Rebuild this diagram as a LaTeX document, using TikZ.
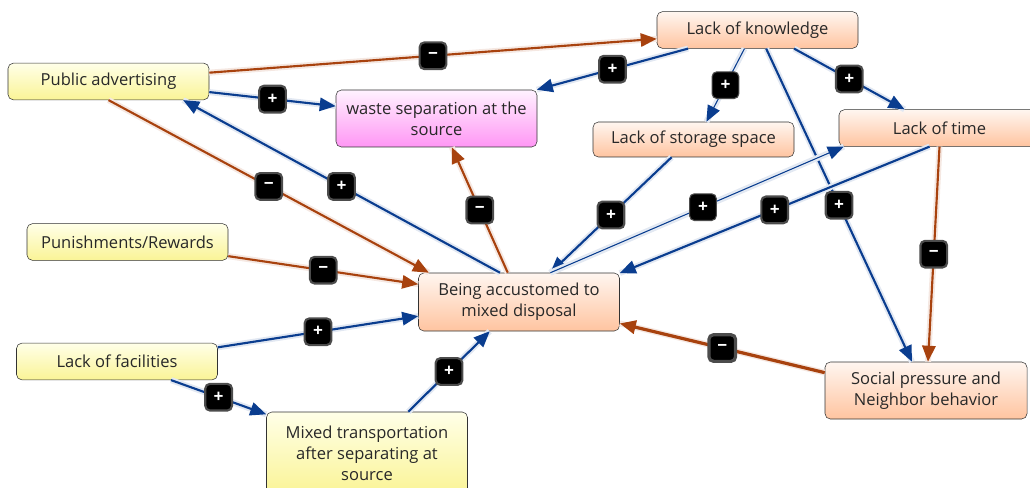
\documentclass[tikz,border=0pt]{standalone}
\usepackage{fontspec}
\setmainfont{Open Sans}
\usetikzlibrary{arrows.meta}

\definecolor{posblue}{RGB}{10,61,143}
\definecolor{negbrown}{RGB}{168,66,14}
\definecolor{boxline}{RGB}{50,50,50}
\definecolor{txtgray}{RGB}{40,40,40}
\definecolor{yellowtop}{RGB}{255,255,232}
\definecolor{yellowbot}{RGB}{250,244,150}
\definecolor{peachtop}{RGB}{255,246,240}
\definecolor{peachbot}{RGB}{255,196,160}
\definecolor{pinktop}{RGB}{255,242,255}
\definecolor{pinkbot}{RGB}{255,150,244}

\tikzset{
  factor/.style={draw=boxline, rounded corners=4pt, minimum width=150.75pt,
    minimum height=27.5pt, align=center, text=txtgray, inner sep=2pt,
    font=\fontsize{12.4}{15.8}\selectfont},
  yellowbox/.style={factor, top color=yellowtop, bottom color=yellowbot},
  peachbox/.style={factor, top color=peachtop, bottom color=peachbot},
  pinkbox/.style={factor, top color=pinktop, bottom color=pinkbot},
  signbox/.style={fill=black, draw=black!70, rounded corners=3.5pt, minimum size=20pt,
    inner sep=0pt, text=white, font=\bfseries\fontsize{13}{13}\selectfont},
  plusarrow/.style={draw=posblue, line width=1.6pt,
    preaction={draw=posblue!12, line width=4.5pt, -},
    -{Triangle[length=12pt,width=10pt]}},
  minusarrow/.style={draw=negbrown, line width=1.6pt,
    preaction={draw=negbrown!12, line width=4.5pt, -},
    -{Triangle[length=12pt,width=10pt]}},
  thinlink/.style={line width=0.8pt, preaction={draw=posblue!10, line width=2.5pt, -}},
}

\begin{document}
\begin{tikzpicture}[x=0.75pt, y=-0.75pt]
  \useasboundingbox (0,0) rectangle (1030,488);

  % factors
  \node[yellowbox] (advert) at (108.5,81.5) {Public advertising};
  \node[pinkbox, minimum height=42.75pt] (waste) at (436.5,118.5) {waste separation at the\\source};
  \node[peachbox] (know) at (757.5,30) {Lack of knowledge};
  \node[peachbox, minimum height=26.25pt] (storage) at (693.5,139.5) {Lack of storage space};
  \node[peachbox] (time) at (939.5,128) {Lack of time};
  \node[yellowbox] (punish) at (127.5,242) {Punishments/Rewards};
  \node[peachbox, minimum height=43.5pt] (habit) at (519,302) {Being accustomed to\\mixed disposal};
  \node[yellowbox] (facil) at (117,361.5) {Lack of facilities};
  \node[yellowbox, minimum height=61.5pt] (transp) at (367,453) {Mixed transportation\\after separating at\\source};
  \node[peachbox, minimum height=42.75pt, minimum width=151.5pt] (social) at (926,390.5) {Social pressure and\\Neighbor behavior};

  % links
  \draw[minusarrow] (advert.5) -- node[signbox]{−} (know.185);
  \draw[plusarrow] (advert.-6) -- node[signbox]{+} (waste.173);
  \draw[minusarrow] (advert.south) -- node[signbox]{−} (habit.162);
  \draw[plusarrow] (habit.123) -- node[signbox]{+} (advert.-14);
  \draw[minusarrow] (habit.111) -- node[signbox]{−} (waste.-62);
  \draw[plusarrow] (know.195) -- node[signbox]{+} (waste.16);
  \draw[plusarrow, thinlink] (know.235) -- node[signbox]{+} (storage.54);
  \draw[plusarrow] (know.-27) -- node[signbox]{+} (time.152);
  \draw[plusarrow] (know.-65) -- node[signbox]{+} (social.116);
  \draw[plusarrow] (storage.219) -- node[signbox]{+} (habit.43);
  \draw[plusarrow, thinlink] (habit.43) -- node[signbox, pos=0.52]{+} (time.191);
  \draw[plusarrow] (time.242) -- node[signbox]{+} (habit.16);
  \draw[minusarrow] (time.south) -- node[signbox]{−} (social.86);
  \draw[minusarrow, line width=2.4pt] (social.170) -- node[signbox]{−} (habit.-12);
  \draw[minusarrow] (punish.-8) -- node[signbox]{−} (habit.170);
  \draw[plusarrow] (facil.8) -- node[signbox]{+} (habit.188);
  \draw[plusarrow] (facil.-19) -- node[signbox]{+} (transp.159);
  \draw[plusarrow] (transp.45) -- node[signbox]{+} (habit.225);
\end{tikzpicture}
\end{document}
